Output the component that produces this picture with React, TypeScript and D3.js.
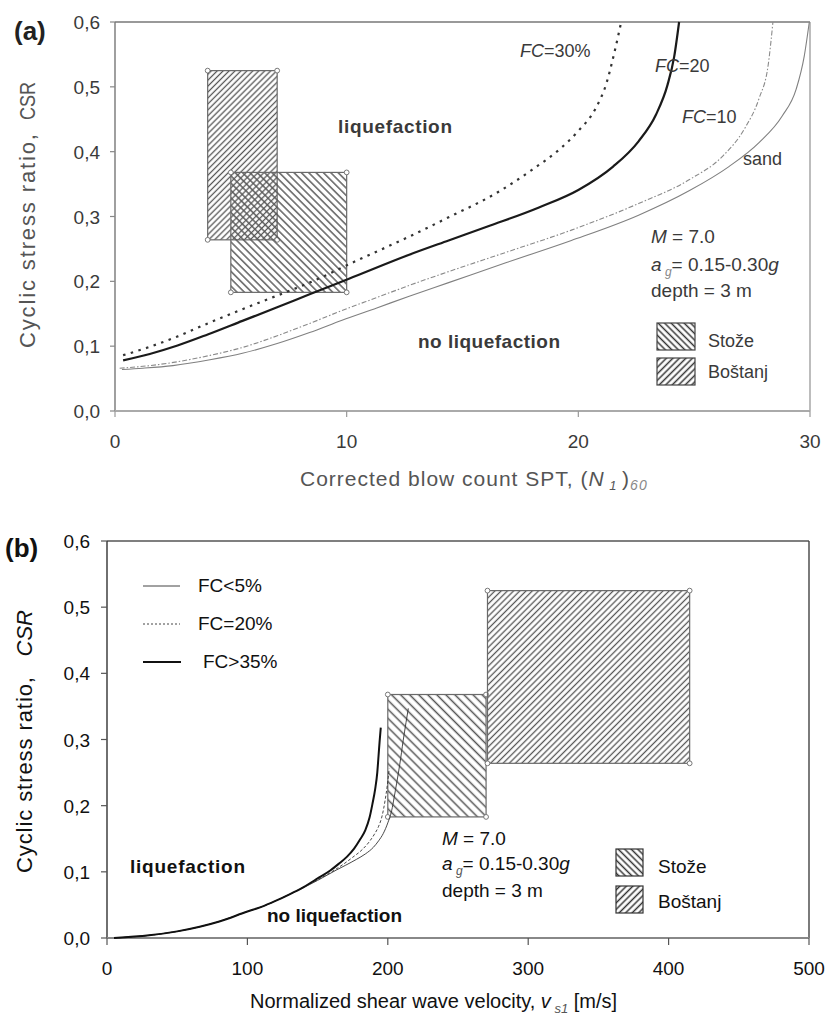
import React from "react";
import * as d3 from "d3";

// ---------- Panel (a) data: CRR curves vs corrected SPT blow count ----------
const sandA: [number, number][] = [
  [0.3, 0.064], [1.2, 0.066], [2.5, 0.07], [4.1, 0.079], [5.5, 0.089], [7.0, 0.104],
  [8.4, 0.121], [9.8, 0.14], [11.3, 0.159], [12.7, 0.177], [14.4, 0.198], [16.9, 0.229],
  [19.7, 0.263], [22.6, 0.302], [24.8, 0.34], [26.5, 0.377], [27.8, 0.414], [28.8, 0.455],
  [29.4, 0.496], [29.75, 0.547], [29.97, 0.6],
];
const fc10A: [number, number][] = [
  [0.2, 0.066], [1.5, 0.07], [2.7, 0.076], [4.0, 0.085], [5.5, 0.098], [7.0, 0.116],
  [8.4, 0.135], [9.8, 0.155], [11.3, 0.175], [12.8, 0.195], [14.4, 0.215], [16.9, 0.245],
  [19.7, 0.279], [22.6, 0.32], [24.8, 0.357], [26.2, 0.392], [27.2, 0.437], [27.8, 0.482],
  [28.2, 0.535], [28.4, 0.6],
];
const fc20A: [number, number][] = [
  [0.35, 0.078], [1.5, 0.088], [2.7, 0.101], [4.0, 0.118], [5.5, 0.139], [7.0, 0.16],
  [8.4, 0.18], [10.1, 0.204], [12.7, 0.241], [14.4, 0.263], [16.2, 0.286], [18.3, 0.314],
  [20.0, 0.341], [21.5, 0.377], [22.6, 0.416], [23.35, 0.457], [23.85, 0.503], [24.14, 0.547],
  [24.35, 0.6],
];
const fc30A: [number, number][] = [
  [0.35, 0.086], [1.5, 0.099], [2.7, 0.115], [4.0, 0.135], [5.5, 0.157], [7.0, 0.178],
  [8.4, 0.198], [10.5, 0.233], [12.7, 0.269], [14.3, 0.297], [16.6, 0.339], [18.0, 0.372],
  [19.2, 0.404], [20.0, 0.432], [20.75, 0.467], [21.2, 0.504], [21.55, 0.552], [21.85, 0.6],
];
const stozeN = [5.0, 10.0];
const bostanjN = [4.0, 7.0];

// ---------- Panel (b) data: CRR curves vs normalized shear wave velocity ----------
const fcLow5B: [number, number][] = [
  [5, 0.0], [30, 0.004], [50, 0.01], [66, 0.017], [80, 0.025], [100, 0.04], [110, 0.047],
  [120, 0.056], [130, 0.066], [140, 0.076], [150, 0.087], [163.6, 0.103], [170, 0.11],
  [177.8, 0.119], [184, 0.127], [189.7, 0.137], [193.5, 0.147], [196.8, 0.158], [200, 0.174],
  [202.8, 0.193], [204.5, 0.212], [206.3, 0.234], [208.5, 0.262], [211, 0.299], [213, 0.326],
  [214.6, 0.347],
];
const fc20B: [number, number][] = [
  [5, 0.0], [30, 0.004], [50, 0.01], [66, 0.017], [80, 0.025], [100, 0.04], [110, 0.047],
  [120, 0.056], [130, 0.066], [140, 0.077], [150, 0.088], [160, 0.1], [168, 0.111],
  [175, 0.122], [182, 0.134], [187, 0.146], [190.5, 0.157], [193.3, 0.168], [196, 0.185],
  [198, 0.207], [199.6, 0.23], [201, 0.256],
];
const fcHigh35B: [number, number][] = [
  [5, 0.0], [30, 0.004], [50, 0.01], [66, 0.017], [80, 0.025], [100, 0.04], [110, 0.047],
  [120, 0.056], [130, 0.066], [140, 0.077], [150, 0.09], [159, 0.102], [165, 0.112],
  [171, 0.123], [176, 0.135], [180, 0.148], [184, 0.163], [187, 0.182], [189, 0.202],
  [191, 0.225], [192.5, 0.25], [193.4, 0.275], [194.2, 0.298], [195, 0.318],
];
const stozeVs = [200, 270];
const bostanjVs = [271, 415];

// CSR ranges of the two sites
const stozeCSR = [0.183, 0.368];
const bostanjCSR = [0.264, 0.525];

// Ticks
const csrTicks = [0, 0.1, 0.2, 0.3, 0.4, 0.5, 0.6];
const nTicks = [0, 10, 20, 30];
const vsTicks = [0, 100, 200, 300, 400, 500];

const FONT = "'Liberation Sans', Arial, Helvetica, sans-serif";
const fmtCsr = (v: number) => v.toFixed(1).replace(".", ",");

function SiteBox({ xs, ys, xScale, yScale, fill }: any) {
  const x0 = xScale(xs[0]), x1 = xScale(xs[1]);
  const y0 = yScale(ys[1]), y1 = yScale(ys[0]);
  const corners = [[x0, y0], [x1, y0], [x0, y1], [x1, y1]];
  return (
    <g>
      <rect x={x0} y={y0} width={x1 - x0} height={y1 - y0} fill={fill} stroke="#6a6a6a" strokeWidth={1.2} />
      {corners.map((c, i) => (
        <circle key={i} cx={c[0]} cy={c[1]} r={2.4} fill="#fff" stroke="#777" strokeWidth={1} />
      ))}
    </g>
  );
}

export default function App() {
  // Panel (a) scales
  const xA = d3.scaleLinear().domain([0, 30]).range([115, 810]);
  const yA = d3.scaleLinear().domain([0, 0.6]).range([411, 22]);
  // Panel (b) scales
  const xB = d3.scaleLinear().domain([0, 500]).range([107, 809]);
  const yB = d3.scaleLinear().domain([0, 0.6]).range([938, 541]);

  const lineA = d3.line<[number, number]>().x((d) => xA(d[0])).y((d) => yA(d[1])).curve(d3.curveMonotoneX);
  const lineB = d3.line<[number, number]>().x((d) => xB(d[0])).y((d) => yB(d[1])).curve(d3.curveMonotoneX);

  const ca = "#3a3a3a"; // panel (a) text colour (softer)
  const cb = "#111";

  return (
    <svg
      width={828}
      height={1020}
      viewBox="0 0 828 1020"
      style={{ position: "absolute", left: 0, top: 0, background: "#fff" }}
      fontFamily={FONT}
    >
      <defs>
        <pattern id="bosA" width={4.2} height={4.2} patternUnits="userSpaceOnUse" patternTransform="rotate(45)">
          <line x1={2.1} y1={0} x2={2.1} y2={4.2} stroke="#555" strokeWidth={1.3} />
        </pattern>
        <pattern id="stoA" width={5.2} height={5.2} patternUnits="userSpaceOnUse" patternTransform="rotate(-45)">
          <line x1={2.6} y1={0} x2={2.6} y2={5.2} stroke="#555" strokeWidth={1.4} />
        </pattern>
        <pattern id="bosB" width={4.4} height={4.4} patternUnits="userSpaceOnUse" patternTransform="rotate(45)">
          <line x1={2.2} y1={0} x2={2.2} y2={4.4} stroke="#555" strokeWidth={1.3} />
        </pattern>
        <pattern id="stoB" width={6.4} height={6.4} patternUnits="userSpaceOnUse" patternTransform="rotate(-45)">
          <line x1={3.2} y1={0} x2={3.2} y2={6.4} stroke="#555" strokeWidth={1.5} />
        </pattern>
        <pattern id="bosL" width={4.6} height={4.6} patternUnits="userSpaceOnUse" patternTransform="rotate(45)">
          <line x1={2.3} y1={0} x2={2.3} y2={4.6} stroke="#333" strokeWidth={1.5} />
        </pattern>
        <pattern id="stoL" width={4.6} height={4.6} patternUnits="userSpaceOnUse" patternTransform="rotate(-45)">
          <line x1={2.3} y1={0} x2={2.3} y2={4.6} stroke="#333" strokeWidth={1.5} />
        </pattern>
      </defs>

      {/* ===================== PANEL (a) ===================== */}
      <g>
        {/* frame */}
        <line x1={xA(0)} y1={yA(0.6)} x2={xA(30)} y2={yA(0.6)} stroke="#777" strokeWidth={1.6} />
        <line x1={xA(30)} y1={yA(0.6)} x2={xA(30)} y2={yA(0)} stroke="#999" strokeWidth={1.3} />
        <line x1={xA(0)} y1={yA(0.6)} x2={xA(0)} y2={yA(0)} stroke="#777" strokeWidth={1.4} />
        <line x1={xA(0)} y1={yA(0)} x2={xA(30)} y2={yA(0)} stroke="#aaa" strokeWidth={2.2} />
        {csrTicks.map((t) => (
          <g key={t}>
            <line x1={xA(0) - 5} x2={xA(0)} y1={yA(t)} y2={yA(t)} stroke="#888" strokeWidth={1.2} />
            <text x={100} y={yA(t) + 7} fontSize={19} textAnchor="end" fill={ca}>{fmtCsr(t)}</text>
          </g>
        ))}
        {nTicks.map((t) => (
          <g key={t}>
            <line x1={xA(t)} x2={xA(t)} y1={yA(0)} y2={yA(0) + 6} stroke="#999" strokeWidth={1.2} />
            <text x={xA(t)} y={448} fontSize={19} textAnchor="middle" fill={ca}>{t}</text>
          </g>
        ))}

        {/* site boxes */}
        <SiteBox xs={bostanjN} ys={bostanjCSR} xScale={xA} yScale={yA} fill="url(#bosA)" />
        <SiteBox xs={stozeN} ys={stozeCSR} xScale={xA} yScale={yA} fill="url(#stoA)" />

        {/* curves */}
        <path d={lineA(sandA) || ""} fill="none" stroke="#808080" strokeWidth={1.1} />
        <path d={lineA(fc10A) || ""} fill="none" stroke="#8a8a8a" strokeWidth={1.1} strokeDasharray="5,2,1.5,2" />
        <path d={lineA(fc20A) || ""} fill="none" stroke="#1a1a1a" strokeWidth={2.2} />
        <path d={lineA(fc30A) || ""} fill="none" stroke="#333" strokeWidth={2.2} strokeDasharray="2.5,5.5" />

        {/* labels */}
        <text x={14} y={40} fontSize={26} fontWeight="bold" fill="#222">(a)</text>
        <text x={338} y={133} fontSize={19} fontWeight="bold" fill={ca} textLength={114} lengthAdjust="spacing">liquefaction</text>
        <text x={418} y={348} fontSize={19} fontWeight="bold" fill={ca} textLength={142} lengthAdjust="spacing">no liquefaction</text>
        <text x={520} y={57} fontSize={18} fill={ca}><tspan fontStyle="italic">FC</tspan>=30%</text>
        <text x={655} y={72} fontSize={18} fill={ca}><tspan fontStyle="italic">FC</tspan>=20</text>
        <text x={682} y={123} fontSize={18} fill={ca}><tspan fontStyle="italic">FC</tspan>=10</text>
        <text x={743} y={165} fontSize={18} fill={ca}>sand</text>
        <text x={651} y={243} fontSize={19} fill={ca}><tspan fontStyle="italic">M</tspan>  = 7.0</text>
        <text x={651} y={271} fontSize={19} fill={ca}>
          <tspan fontStyle="italic">a</tspan>
          <tspan fontStyle="italic" fontSize={12} dy={5} fill="#888"> g</tspan>
          <tspan dy={-5}>= 0.15-0.30</tspan>
          <tspan fontStyle="italic">g</tspan>
        </text>
        <text x={651} y={297} fontSize={19} fill={ca}>depth = 3 m</text>
        {/* legend */}
        <rect x={657} y={323} width={38} height={27} fill="url(#stoL)" stroke="#444" strokeWidth={1.2} />
        <rect x={657} y={358} width={38} height={27} fill="url(#bosL)" stroke="#444" strokeWidth={1.2} />
        <text x={708} y={347} fontSize={18} fill={ca}>Stože</text>
        <text x={708} y={378} fontSize={18} fill={ca}>Boštanj</text>

        {/* axis titles */}
        <text transform="translate(35,348) rotate(-90)" fontSize={22} textAnchor="start" fill="#555" textLength={214} lengthAdjust="spacing">Cyclic stress ratio,</text>
        <text transform="translate(35,120) rotate(-90)" fontSize={22} textAnchor="start" fill="#555" textLength={38} lengthAdjust="spacingAndGlyphs">CSR</text>
        <text x={300} y={486} fontSize={21} fill="#555" letterSpacing={1}>
          Corrected blow count SPT, (<tspan fontStyle="italic">N</tspan>
          <tspan fontStyle="italic" fontSize={13} dy={4}> 1 </tspan>
          <tspan dy={-4}>)</tspan>
          <tspan fontStyle="italic" fontSize={14} dy={4} fill="#888">60</tspan>
        </text>
      </g>

      {/* ===================== PANEL (b) ===================== */}
      <g>
        <line x1={xB(0)} y1={yB(0.6)} x2={xB(500)} y2={yB(0.6)} stroke="#555" strokeWidth={1.5} />
        <line x1={xB(500)} y1={yB(0.6)} x2={xB(500)} y2={yB(0)} stroke="#444" strokeWidth={1.4} />
        <line x1={xB(0)} y1={yB(0.6)} x2={xB(0)} y2={yB(0)} stroke="#333" strokeWidth={1.4} />
        <line x1={xB(0)} y1={yB(0)} x2={xB(500)} y2={yB(0)} stroke="#888" strokeWidth={2.2} />
        {csrTicks.map((t) => (
          <g key={t}>
            <line x1={xB(0) - 6} x2={xB(0)} y1={yB(t)} y2={yB(t)} stroke="#555" strokeWidth={1.2} />
            <text x={90} y={yB(t) + 7} fontSize={19} textAnchor="end" fill={cb}>{fmtCsr(t)}</text>
          </g>
        ))}
        {vsTicks.map((t) => (
          <g key={t}>
            <line x1={xB(t)} x2={xB(t)} y1={yB(0)} y2={yB(0) + 7} stroke="#555" strokeWidth={1.2} />
            <text x={xB(t)} y={975} fontSize={19} textAnchor="middle" fill={cb}>{t}</text>
          </g>
        ))}

        <SiteBox xs={stozeVs} ys={stozeCSR} xScale={xB} yScale={yB} fill="url(#stoB)" />
        <SiteBox xs={bostanjVs} ys={bostanjCSR} xScale={xB} yScale={yB} fill="url(#bosB)" />

        <path d={lineB(fcLow5B) || ""} fill="none" stroke="#333" strokeWidth={0.9} />
        <path d={lineB(fc20B) || ""} fill="none" stroke="#333" strokeWidth={0.9} strokeDasharray="3,2" />
        <path d={lineB(fcHigh35B) || ""} fill="none" stroke="#111" strokeWidth={2} />

        {/* legend of curves */}
        <line x1={143} x2={180} y1={586} y2={586} stroke="#444" strokeWidth={1} />
        <line x1={143} x2={180} y1={624} y2={624} stroke="#444" strokeWidth={1} strokeDasharray="2,2" />
        <line x1={143} x2={181} y1={662} y2={662} stroke="#111" strokeWidth={2} />
        <text x={198} y={592} fontSize={19} fill={cb}>FC&lt;5%</text>
        <text x={198} y={630} fontSize={19} fill={cb}>FC=20%</text>
        <text x={203} y={668} fontSize={19} fill={cb}>FC&gt;35%</text>

        <text x={5} y={557} fontSize={26} fontWeight="bold" fill="#111">(b)</text>
        <text x={130} y={873} fontSize={19} fontWeight="bold" fill={cb} textLength={115} lengthAdjust="spacing">liquefaction</text>
        <text x={267} y={922} fontSize={19} fontWeight="bold" fill={cb} textLength={135} lengthAdjust="spacing">no liquefaction</text>

        <text x={442} y={845} fontSize={19} fill={cb}><tspan fontStyle="italic">M</tspan>  = 7.0</text>
        <text x={442} y={870} fontSize={19} fill={cb}>
          <tspan fontStyle="italic">a</tspan>
          <tspan fontStyle="italic" fontSize={12} dy={5} fill="#555"> g</tspan>
          <tspan dy={-5}>= 0.15-0.30</tspan>
          <tspan fontStyle="italic">g</tspan>
        </text>
        <text x={442} y={897} fontSize={19} fill={cb}>depth = 3 m</text>

        <rect x={616} y={849} width={27} height={27} fill="url(#stoL)" stroke="#333" strokeWidth={1.2} />
        <rect x={616} y={886} width={27} height={27} fill="url(#bosL)" stroke="#333" strokeWidth={1.2} />
        <text x={658} y={873} fontSize={19} fill={cb}>Stože</text>
        <text x={658} y={908} fontSize={19} fill={cb}>Boštanj</text>

        <text transform="translate(32,873) rotate(-90)" fontSize={22} textAnchor="start" fill={cb} textLength={196} lengthAdjust="spacing">Cyclic stress ratio,</text>
        <text transform="translate(32,610) rotate(-90)" fontSize={22} textAnchor="end" fontStyle="italic" fill={cb}>CSR</text>
        <text x={250} y={1008} fontSize={20} fill={cb}>
          Normalized shear wave velocity, <tspan fontStyle="italic">v</tspan>
          <tspan fontStyle="italic" fontSize={13} dy={5} fill="#555"> s1</tspan>
          <tspan dy={-5}>  [m/s]</tspan>
        </text>
      </g>
    </svg>
  );
}
